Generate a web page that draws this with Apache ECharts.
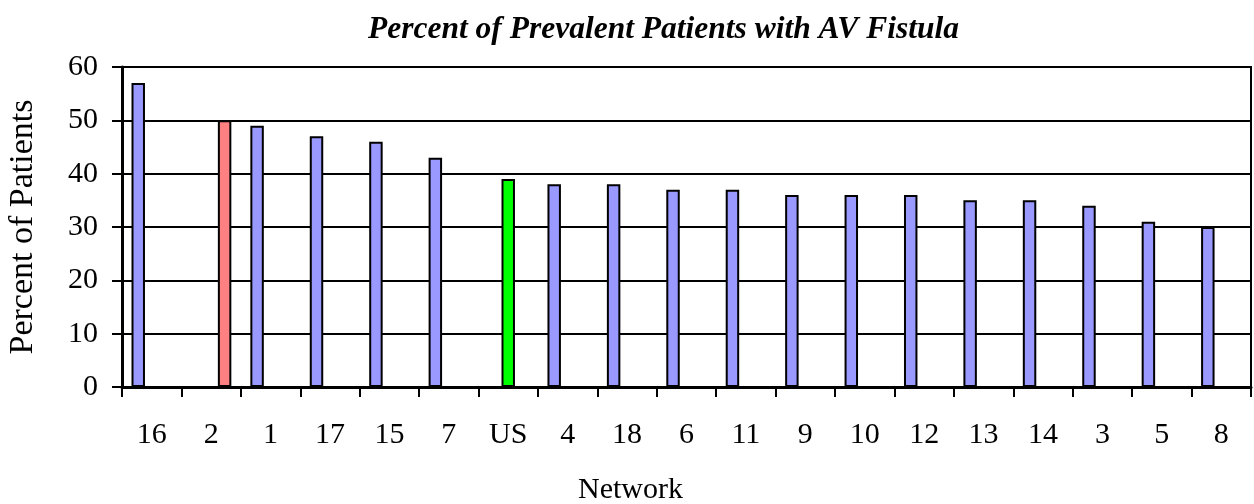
<!DOCTYPE html>
<html><head><meta charset="utf-8">
<script src="https://cdn.jsdelivr.net/npm/echarts@6/dist/echarts.min.js"></script>
<style>html,body{margin:0;padding:0;background:#fff}#c{width:1254px;height:504px}</style>
</head><body><div id="c"></div>
<script>
const categories = ['16','2','1','17','15','7','US','4','18','6','11','9','10','12','13','14','3','5','8'];
const networkValues = [57,null,49,47,46,43,null,38,38,37,37,36,36,36,35,35,34,31,30];
const usValues = [null,null,null,null,null,null,39,null,null,null,null,null,null,null,null,null,null,null,null];
const highlightValues = [null,50,null,null,null,null,null,null,null,null,null,null,null,null,null,null,null,null,null];
const yTicks = [0,10,20,30,40,50,60];

const font = '"Liberation Serif","Times New Roman",serif';
const chart = echarts.init(document.getElementById('c'), null, {renderer:'canvas'});
const barBorder = {borderColor:'#000', borderWidth:2};
chart.setOption({
  animation:false,
  backgroundColor:'#fff',
  title:[
    {text:'Percent of Prevalent Patients with AV Fistula', left:368, top:14, padding:0,
     textStyle:{fontFamily:font, fontSize:31.5, fontWeight:'bold', fontStyle:'italic', color:'#000'}},
    {text:'Network', left:578, top:475, padding:0,
     textStyle:{fontFamily:font, fontSize:30, fontWeight:'normal', color:'#000'}}
  ],
  grid:{left:122, right:3, top:67, bottom:117, containLabel:false, outerBoundsMode:'none',
    show:true, borderColor:'#000', borderWidth:2, backgroundColor:'transparent'},
  xAxis:{type:'category', data:categories,
    axisLine:{lineStyle:{color:'#000', width:3}},
    axisTick:{show:true, length:10, lineStyle:{color:'#000', width:2}},
    axisLabel:{color:'#000', fontFamily:font, fontSize:30, margin:33}},
  yAxis:{type:'value', min:yTicks[0], max:yTicks[yTicks.length-1], interval:10,
    axisLine:{show:true, lineStyle:{color:'#000', width:3}},
    axisTick:{show:true, length:10, lineStyle:{color:'#000', width:2}},
    splitLine:{show:true, lineStyle:{color:'#000', width:2}},
    axisLabel:{color:'#000', fontFamily:font, fontSize:30, margin:24},
    name:'Percent of Patients', nameLocation:'middle', nameGap:82, nameRotate:90,
    nameTextStyle:{color:'#000', fontFamily:font, fontSize:34}},
  series:[
    {type:'bar', data:networkValues, barGap:'0%', barCategoryGap:'32%', itemStyle:Object.assign({color:'#9999FF'}, barBorder)},
    {type:'bar', data:usValues, itemStyle:Object.assign({color:'#00FF00'}, barBorder)},
    {type:'bar', data:highlightValues, itemStyle:Object.assign({color:'#FF8080'}, barBorder)}
  ]
});
</script></body></html>
